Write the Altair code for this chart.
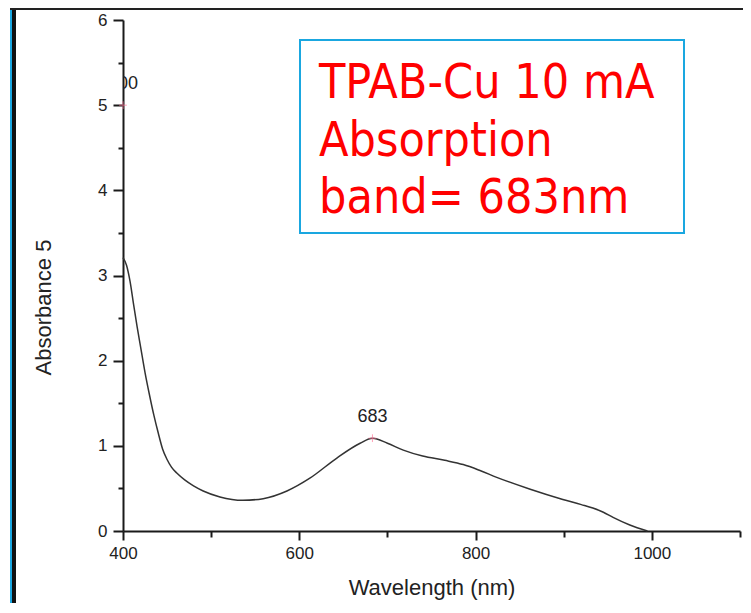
import altair as alt
import pandas as pd

# ---- data ----
wavelength = [400, 404, 408, 412, 416, 420, 425, 430, 435, 440, 445, 450, 455, 461, 470, 480, 491,
              510, 536, 559, 586, 612, 643, 669, 683, 700, 718, 740, 765, 786, 805, 824, 862,
              899, 920, 933, 945, 956, 975, 995]
absorbance = [3.21, 3.12, 2.93, 2.66, 2.40, 2.16, 1.86, 1.60, 1.36, 1.15, 0.96, 0.84, 0.75, 0.68, 0.60, 0.53, 0.47,
              0.40, 0.36, 0.38, 0.47, 0.62, 0.86, 1.03, 1.09, 1.03, 0.95, 0.88, 0.83, 0.78, 0.71, 0.63, 0.49,
              0.37, 0.31, 0.27, 0.22, 0.16, 0.07, 0.0]
peak_wavelength = [400, 683]
peak_absorbance = [5.0, 1.09]
peak_labels = ["400", "683"]
x_major = [400, 600, 800, 1000]
x_minor = [500, 700, 900, 1100]
y_major = [0, 1, 2, 3, 4, 5, 6]
y_minor = [0.5, 1.5, 2.5, 3.5, 4.5, 5.5]
note_lines = ["TPAB-Cu 10 mA", "Absorption", "band= 683nm"]
x_title = "Wavelength (nm)"
y_title = "Absorbance 5"

df = pd.DataFrame({"wl": wavelength, "ab": absorbance})
peaks = pd.DataFrame({"wl": peak_wavelength, "ab": peak_absorbance, "label": peak_labels})
one = pd.DataFrame({"k": [0]})

W, H = 617, 511
AX = "#1a1a1a"
FONT = "Liberation Sans"
xs = alt.Scale(domain=[400, 1100], nice=False, zero=False)
ys = alt.Scale(domain=[0, 6], nice=False, zero=False)

common_axis = dict(domainColor=AX, domainWidth=2, tickColor=AX, tickWidth=2, grid=False,
                   labelFont=FONT, labelFontSize=17, labelColor="#222", labelFlush=False,
                   labelOverlap=False, titleFont=FONT, titleFontSize=22,
                   titleFontWeight="normal", titleColor="#222")

curve = alt.Chart(df).mark_line(interpolate="monotone", color="#333333", strokeWidth=1.5).encode(
    x=alt.X("wl:Q", scale=xs, axis=alt.Axis(values=x_major, orient="bottom", title=x_title,
                                             tickSize=9, labelPadding=5, titlePadding=16,
                                             format="d", **common_axis)),
    y=alt.Y("ab:Q", scale=ys, axis=alt.Axis(values=y_major, orient="left", title=y_title,
                                             tickSize=10, labelPadding=6, titleX=-80, titleY=287,
                                             titleBaseline="middle", titleAngle=-90,
                                             format="d", **common_axis)),
)

minor = alt.Chart(df).mark_point(opacity=0).encode(
    x=alt.X("wl:Q", scale=xs, axis=alt.Axis(values=x_minor, orient="bottom", title=None, labels=False,
                                             domain=False, tickSize=6, tickColor=AX, tickWidth=2, grid=False)),
    y=alt.Y("ab:Q", scale=ys, axis=alt.Axis(values=y_minor, orient="left", title=None, labels=False,
                                             domain=False, tickSize=5, tickColor=AX, tickWidth=2, grid=False)),
)

markers = alt.Chart(peaks).mark_point(shape="M-1,0L1,0M0,-1L0,1", filled=False, color="#ff7799",
                                      size=60, strokeWidth=1).encode(
    x=alt.X("wl:Q", scale=xs, axis=None), y=alt.Y("ab:Q", scale=ys, axis=None))

labels = alt.Chart(peaks).mark_text(dy=-21, font=FONT, fontSize=18, color="#222", clip=True).encode(
    x=alt.X("wl:Q", scale=xs, axis=None), y=alt.Y("ab:Q", scale=ys, axis=None), text="label:N")

box = alt.Chart(one).mark_rect(fill=None, stroke="#1aa7e0", strokeWidth=2).encode(
    x=alt.value(177), x2=alt.value(561), y=alt.value(20), y2=alt.value(213))

note = alt.Chart(one).mark_text(text="\n".join(note_lines), lineBreak="\n", lineHeight=57.5,
                                align="left", baseline="alphabetic",
                                font="Liberation Sans Narrow, DejaVu Sans Condensed, sans-serif",
                                fontSize=48, color="#ff0000").encode(
    x=alt.value(196), y=alt.value(78))

frame_blue = alt.Chart(one).mark_rule(color="#1aa7e0", strokeWidth=2).encode(
    x=alt.value(-112), y=alt.value(-12), y2=alt.value(600))
frame_black = alt.Chart(one).mark_rule(color="#111", strokeWidth=4).encode(
    x=alt.value(-109), y=alt.value(-12), y2=alt.value(600))
frame_top = alt.Chart(one).mark_rule(color="#222", strokeWidth=2).encode(
    x=alt.value(-113), x2=alt.value(625), y=alt.value(-11))

chart = alt.layer(curve, minor, markers, labels, box, note, frame_blue, frame_black, frame_top).resolve_axis(
    x="independent", y="independent"
).properties(
    width=W, height=H,
    autosize=alt.AutoSizeParams(type="none"),
    padding={"left": 115, "top": 12, "right": 3, "bottom": 72},
).configure_view(stroke=None)

chart.save("out.html", embed_options={"renderer": "svg", "actions": False})
